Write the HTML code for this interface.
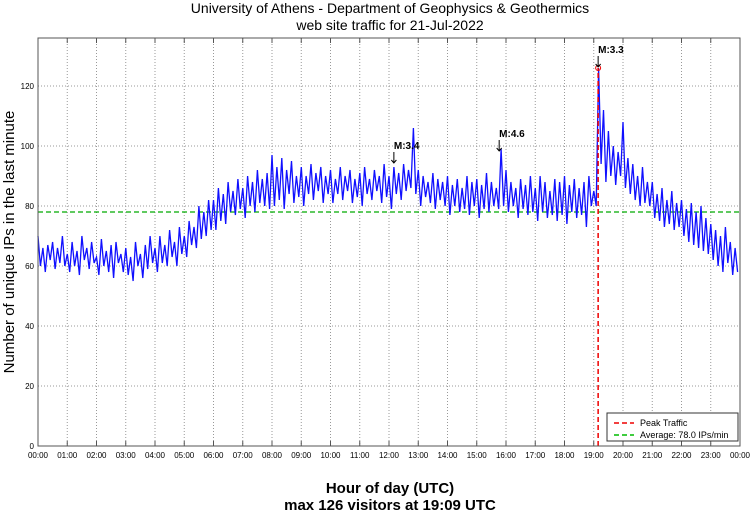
<!DOCTYPE html>
<html><head><meta charset="utf-8"><style>
body{margin:0;background:#fff;width:750px;height:511px;overflow:hidden;font-family:"Liberation Sans",sans-serif}
</style></head><body>
<svg id="chart" width="750" height="511" xmlns="http://www.w3.org/2000/svg" font-family="Liberation Sans, sans-serif">
<text x="390" y="13" text-anchor="middle" font-size="14">University of Athens - Department of Geophysics &amp; Geothermics</text>
<text x="390" y="30" text-anchor="middle" font-size="14">web site traffic for 21-Jul-2022</text>
<text transform="translate(14,242) rotate(-90)" text-anchor="middle" font-size="15">Number of unique IPs in the last minute</text>
<text x="390" y="493" text-anchor="middle" font-size="15" font-weight="bold">Hour of day (UTC)</text>
<text x="390" y="510" text-anchor="middle" font-size="15" font-weight="bold">max 126 visitors at 19:09 UTC</text>
<g id="grid"></g><g id="series"></g><g id="overlay"></g>
<rect x="38" y="38" width="702" height="408" fill="none" stroke="#555" stroke-width="1"/>
<g>
<rect x="607" y="413" width="131" height="28" fill="#fff" stroke="#333"/>
<line x1="614" y1="423" x2="634" y2="423" stroke="#e00" stroke-width="1.5" stroke-dasharray="5,3"/>
<text x="640" y="426" font-size="9">Peak Traffic</text>
<line x1="614" y1="435" x2="634" y2="435" stroke="#0b0" stroke-width="1.5" stroke-dasharray="5,3"/>
<text x="640" y="438" font-size="9">Average: 78.0 IPs/min</text>
</g>
</svg>
<script>
const yTicks=[0,20,40,60,80,100,120];
const hourLabels=["00:00","01:00","02:00","03:00","04:00","05:00","06:00","07:00","08:00","09:00","10:00","11:00","12:00","13:00","14:00","15:00","16:00","17:00","18:00","19:00","20:00","21:00","22:00","23:00","00:00"];
const visitors=[
70,60,66,58,67,62,68,59,66,61,70,60,
64,58,68,60,65,57,70,62,66,59,68,61,
63,57,69,60,65,58,67,56,68,61,64,58,
66,57,63,55,68,60,64,56,67,59,70,61,
66,58,70,61,67,60,72,63,68,60,73,64,
70,63,75,67,73,66,80,69,78,70,82,72,
82,72,86,75,84,74,88,78,85,77,89,79,
86,76,90,80,88,78,92,81,89,80,91,79,
97,80,93,82,96,79,92,84,95,81,90,83,
93,80,90,84,94,82,91,85,93,81,90,84,
92,81,89,84,93,82,90,85,92,81,89,83,
91,80,93,84,89,82,92,85,90,81,94,83,
90,79,93,84,91,82,94,85,92,86,106,84,
92,80,90,83,88,81,91,79,89,82,88,80,
90,77,87,80,89,78,86,79,90,77,88,80,
89,76,87,79,91,78,88,80,86,79,99,80,
92,78,88,80,86,76,89,79,87,77,90,78,
86,75,90,78,88,76,85,77,89,75,88,77,
90,74,87,78,89,76,86,77,88,73,90,80,
85,80,126,94,112,88,105,90,100,87,98,90,
108,86,96,84,94,82,90,80,93,81,88,80,
88,76,84,75,86,73,82,74,85,72,81,73,
82,70,79,68,81,67,78,66,80,65,76,64,
74,62,72,60,70,58,73,61,68,57,66,58];
const minutesStep=5;
const averageValue=78.0;
const peakMinute=1149, peakValue=126;
const eventLabels=["M:3.4","M:4.6","M:3.3"];
const eventMinutes=[730,946,1149];
const eventValues=[94,98,126];

const NS="http://www.w3.org/2000/svg";
const L=38,R=740,T=38,B=446,YMAX=136;
const xs=m=>L+(m/1440)*(R-L);
const ys=v=>B-(v/YMAX)*(B-T);
function mk(tag,attrs,parent){const e=document.createElementNS(NS,tag);for(const k in attrs)e.setAttribute(k,attrs[k]);parent.appendChild(e);return e;}
const grid=document.getElementById('grid');
yTicks.forEach(v=>{
  const y=ys(v);
  if(v>0){const g=mk('line',{x1:L,x2:R,y1:y,y2:y,stroke:'#999','stroke-dasharray':'1,2','stroke-width':1},grid);
  
  }
  const t=mk('text',{x:L-4,y:y+3,'text-anchor':'end','font-size':8},grid);t.textContent=v;
  
  
});
hourLabels.forEach((lab,i)=>{
  const x=xs(i*60);
  if(i>0&&i<24){const g=mk('line',{x1:x,x2:x,y1:T,y2:B,stroke:'#999','stroke-dasharray':'1,2','stroke-width':1},grid);
  
  }
  mk('line',{x1:x,x2:x,y1:B,y2:B-5,stroke:'#555'},grid);
  mk('line',{x1:x,x2:x,y1:T,y2:T+5,stroke:'#555'},grid);
  const t=mk('text',{x:x,y:B+12,'text-anchor':'middle','font-size':8},grid);t.textContent=lab;
  
  
});
const ov=document.getElementById('overlay');
const avg=mk('line',{x1:L,x2:R,y1:ys(averageValue),y2:ys(averageValue),stroke:'#0a0','stroke-width':1.2,'stroke-dasharray':'5,3'},document.getElementById('series'));


const pts=visitors.map((v,i)=>xs(i*minutesStep).toFixed(1)+','+ys(v).toFixed(1)).join(' ');
const line=mk('polyline',{points:pts,fill:'none',stroke:'#1010ff','stroke-width':1.3},document.getElementById('series'));


const pk=mk('line',{x1:xs(peakMinute),x2:xs(peakMinute),y1:B,y2:ys(peakValue),stroke:'#e00','stroke-width':1.5,'stroke-dasharray':'5,3'},ov);


const pc=mk('circle',{cx:xs(peakMinute),cy:ys(peakValue),r:2.5,fill:'none',stroke:'#e00'},ov);


eventLabels.forEach((lab,i)=>{
  const x=xs(eventMinutes[i]),y=ys(eventValues[i]);
  const g=mk('g',{},ov);
  
  
  mk('line',{x1:x,x2:x,y1:y-12,y2:y-1,stroke:'#000'},g);
  mk('polyline',{points:(x-2.5)+','+(y-4)+' '+x+','+(y-1)+' '+(x+2.5)+','+(y-4),fill:'none',stroke:'#000'},g);
  const t=mk('text',{x:x,y:y-15,'font-size':10,'font-weight':'bold'},g);t.textContent=lab;
});
</script>
</body></html>
